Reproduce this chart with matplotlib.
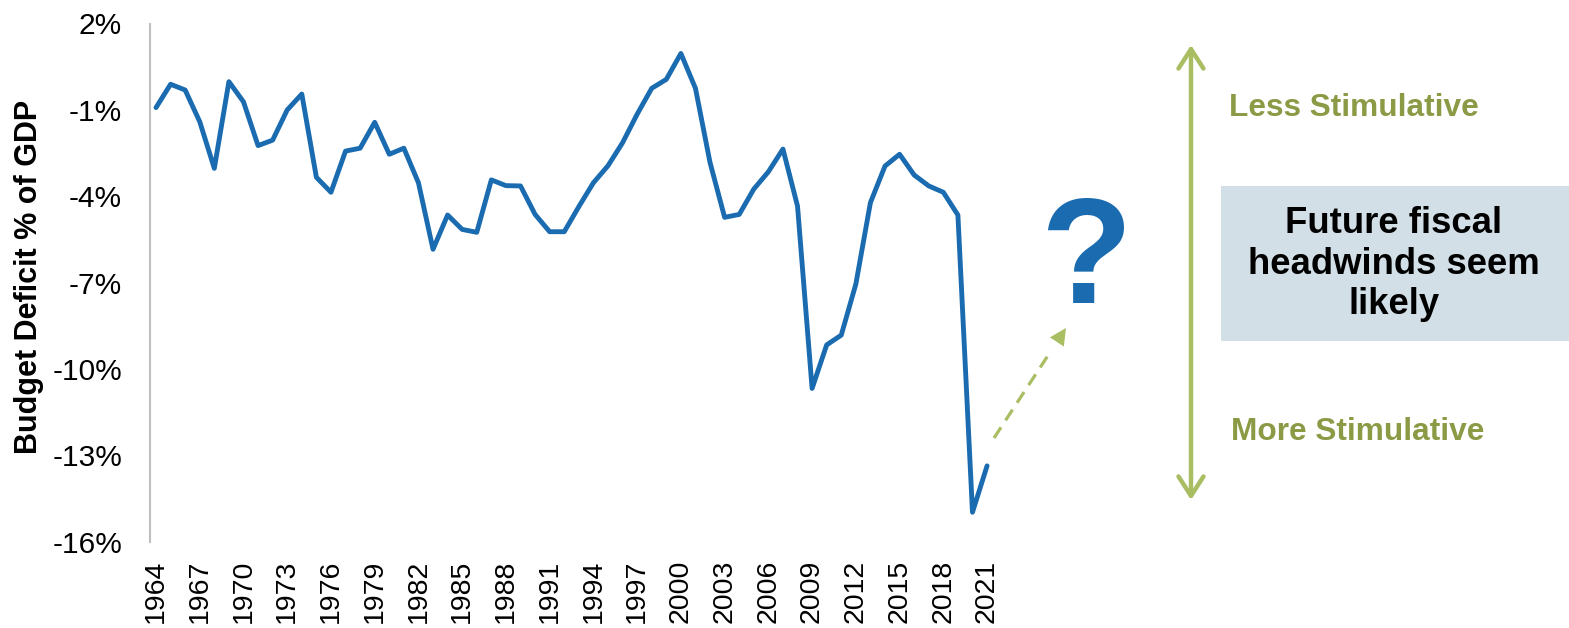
import matplotlib
matplotlib.use("Agg")
import matplotlib.pyplot as plt
from matplotlib.patches import Rectangle, FancyArrowPatch

years = list(range(1964, 2022))
deficit_pct = [
    -0.92, -0.11, -0.31, -1.41, -3.03, -0.02, -0.72, -2.24, -2.05, -1.00,
    -0.45, -3.34, -3.86, -2.43, -2.33, -1.43, -2.54, -2.33, -3.53, -5.84,
    -4.65, -5.15, -5.25, -3.43, -3.63, -3.64, -4.63, -5.23, -5.23, -4.36,
    -3.53, -2.94, -2.14, -1.15, -0.25, 0.06, 0.96, -0.25, -2.83, -4.73,
    -4.63, -3.75, -3.15, -2.36, -4.34, -10.67, -9.16, -8.82, -7.05, -4.22,
    -2.95, -2.54, -3.26, -3.64, -3.86, -4.65, -14.97, -13.36,
]
y_ticks = [2, -1, -4, -7, -10, -13, -16]
x_ticks = list(range(1964, 2022, 3))

W, H = 1569, 628
fig = plt.figure(figsize=(W / 100, H / 100), dpi=100)
plt.rcParams['font.family'] = ['Liberation Sans', 'DejaVu Sans']

def fx(x):
    return x / W

def fy(y):
    return 1 - y / H

# axes geometry (pixels)
left_px, right_px = 150, 1000
top_px, bot_px = 23.5, 541.9
ax = fig.add_axes([fx(left_px), fy(bot_px), fx(right_px - left_px), (bot_px - top_px) / H])

px_per_year = 14.58
x0 = 1964 - (156 - left_px) / px_per_year
x1 = 1964 + (right_px - 156) / px_per_year
ax.set_xlim(x0, x1)
ax.set_ylim(-16, 2)

blue = '#1A6BB0'
ax.plot(years, deficit_pct, color=blue, lw=3.5, solid_joinstyle='round', solid_capstyle='round')

for s in ['top', 'right', 'bottom']:
    ax.spines[s].set_visible(False)
ax.spines['left'].set_color('#BFBFBF')
ax.spines['left'].set_linewidth(1.5)

ax.set_yticks(y_ticks)
ax.set_yticklabels([f'{v}%' for v in y_ticks], fontsize=21.5)
ax.set_xticks(x_ticks)
ax.set_xticklabels([str(v) for v in x_ticks], fontsize=20.5, rotation=90)
ax.tick_params(axis='y', length=0, pad=20)
ax.tick_params(axis='x', length=0, pad=13)

fig.text(fx(29), fy(277), 'Budget Deficit % of GDP', fontsize=22, fontweight='bold',
         rotation=90, ha='center', va='center')

green_text = '#8A9A45'
green_arrow = '#A9BD63'

# dashed arrow
sx, sy = 994, 438
ex, ey = 1066, 328
mx, my = sx + (ex - sx) * 0.80, sy + (ey - sy) * 0.80
fig.add_artist(plt.Line2D([fx(sx), fx(mx)], [fy(sy), fy(my)], transform=fig.transFigure,
                          color=green_arrow, lw=2.3, dashes=(4, 2.6)))
fig.add_artist(FancyArrowPatch((fx(mx), fy(my)), (fx(ex), fy(ey)), transform=fig.transFigure,
                               arrowstyle='-|>,head_length=12,head_width=6', mutation_scale=1,
                               color=green_arrow, lw=0, shrinkA=0, shrinkB=0))

# question mark
fig.text(fx(1086), fy(264), '?', fontsize=108, fontweight='bold', color=blue,
         ha='center', va='center')

# vertical double arrow
fig.add_artist(FancyArrowPatch((fx(1191), fy(500)), (fx(1191), fy(45)), transform=fig.transFigure,
                               arrowstyle='<->,head_length=14,head_width=9', mutation_scale=1,
                               color=green_arrow, lw=3.2, capstyle='round', joinstyle='round',
                               shrinkA=0, shrinkB=0))

fig.text(fx(1354), fy(108), 'Less Stimulative', fontsize=22.8, fontweight='bold',
         color=green_text, ha='center', va='center')
fig.text(fx(1358), fy(432), 'More Stimulative', fontsize=22.8, fontweight='bold',
         color=green_text, ha='center', va='center')

# box
fig.add_artist(Rectangle((fx(1221), fy(341)), fx(W - 1221), (341 - 186) / H,
                         transform=fig.transFigure, facecolor='#D3DFE7', edgecolor='none'))
fig.text(fx(1394), fy(264), 'Future fiscal\nheadwinds seem\nlikely', fontsize=26.3,
         fontweight='bold', color='black', ha='center', va='center', linespacing=1.2)

fig.savefig('out.png', dpi=100)
